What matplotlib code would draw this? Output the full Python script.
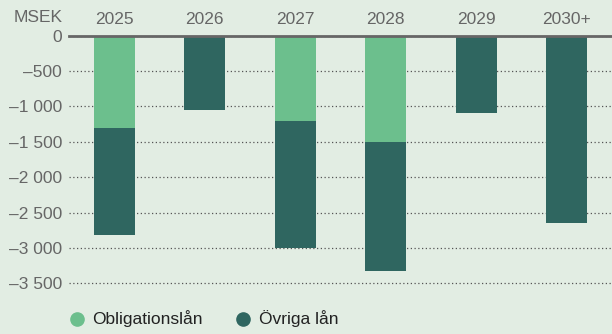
import numpy as np
import matplotlib.pyplot as plt
from matplotlib.lines import Line2D

plt.rcParams['font.family'] = ['Liberation Sans', 'DejaVu Sans']

years = ['2025', '2026', '2027', '2028', '2029', '2030+']
obligationslan = [-1300, 0, -1200, -1500, 0, 0]
ovriga_lan = [-1520, -1050, -1800, -1830, -1090, -2650]
yticks = [0, -500, -1000, -1500, -2000, -2500, -3000, -3500]
series = ['Obligationslån', 'Övriga lån']

bg = '#e2ede3'
c_light = '#6cbf8d'
c_dark = '#2f6660'
txt = '#666666'
fs = 12.5

fig = plt.figure(figsize=(6.12, 3.34), dpi=100, facecolor=bg)
W, H = 612, 334
ax = fig.add_axes([69 / W, 1 - 290.5 / H, 1 - 69 / W, (290.5 - 35.5) / H])
ax.set_facecolor(bg)

x = np.arange(len(years))
w = 0.45
ax.bar(x, obligationslan, w, color=c_light, zorder=2)
ax.bar(x, ovriga_lan, w, bottom=obligationslan, color=c_dark, zorder=2)

ax.set_xlim(-0.5, 5.5)
ax.set_ylim(-3600, 0)

ax.set_yticks(yticks)
ax.set_yticklabels([('\u2013' if v < 0 else '') + f'{abs(v):,}'.replace(',', ' ') for v in yticks])
ax.yaxis.grid(True, linestyle=(0, (1, 2)), linewidth=0.9, color='#555555', zorder=1)
ax.tick_params(axis='y', length=0, pad=5, labelsize=fs, labelcolor=txt)

ax.set_xticks(x)
ax.set_xticklabels(years)
ax.xaxis.tick_top()
ax.tick_params(axis='x', length=0, pad=6, labelsize=fs, labelcolor=txt)

for side in ['left', 'right', 'bottom']:
    ax.spines[side].set_visible(False)
ax.spines['top'].set_color('#666666')
ax.spines['top'].set_linewidth(2)
ax.spines['top'].set_zorder(3)

fig.text(14 / W, 1 - 17 / H, 'MSEK', fontsize=fs, color=txt, va='center', ha='left')

# legend drawn by hand: marker + label per series
ly = 1 - 319 / H
for (mx, tx), label, c in zip([(77, 92), (243, 259)], series, [c_light, c_dark]):
    fig.add_artist(Line2D([mx / W], [ly], marker='o', markersize=9.5, color=c,
                          linestyle='', transform=fig.transFigure))
    fig.text(tx / W, ly, label, fontsize=fs, color='#222222', va='center', ha='left')

fig.savefig('out.png', dpi=100, facecolor=bg)
